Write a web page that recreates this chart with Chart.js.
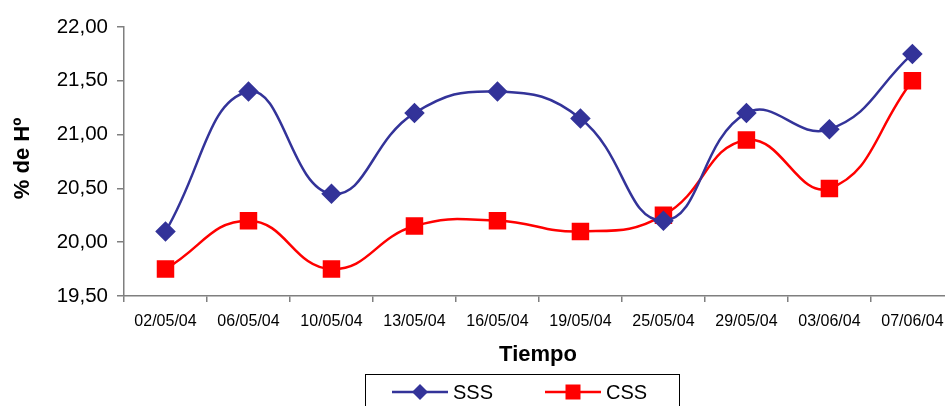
<!DOCTYPE html>
<html>
<head>
<meta charset="utf-8">
<title>% de Hº</title>
<script src="https://cdn.jsdelivr.net/npm/chart.js@4.4.1/dist/chart.umd.min.js"></script>
<style>
  html, body { margin: 0; padding: 0; background: #fff; overflow: hidden; }
  #wrap { width: 945px; height: 406px; overflow: hidden; }
</style>
</head>
<body>
<div id="wrap"><canvas id="myChart" width="967" height="406"></canvas></div>
<script>
'use strict';

// fechas de muestreo
let fechas = ['02/05/04', '06/05/04', '10/05/04', '13/05/04', '16/05/04',
  '19/05/04', '25/05/04', '29/05/04', '03/06/04', '07/06/04'];
let sss = [20.10, 21.40, 20.45, 21.20, 21.40, 21.15, 20.20, 21.20, 21.05, 21.75];
let css = [19.75, 20.20, 19.75, 20.15, 20.20, 20.10, 20.25, 20.95, 20.50, 21.50];
let yTicks = [19.5, 20, 20.5, 21, 21.5, 22];

let FONT = "'Liberation Sans', Arial, sans-serif";
let axisGray = '#7f7f7f';

// titles + boxed legend, drawn by hand like the excel original
let decor = {
  id: 'decor',
  afterDraw(chart) {
    let ctx = chart.ctx;
    let area = chart.chartArea;
    ctx.save();
    ctx.fillStyle = '#000';
    ctx.textAlign = 'center';
    ctx.textBaseline = 'middle';

    ctx.font = 'bold 22px ' + FONT;
    ctx.fillText('Tiempo', 538, 355);

    ctx.save();
    ctx.translate(23, (area.top + area.bottom) / 2 - 3);
    ctx.rotate(-Math.PI / 2);
    ctx.fillText('% de Hº', 0, 0);
    ctx.restore();

    // legend box
    ctx.strokeStyle = '#000';
    ctx.lineWidth = 1;
    ctx.strokeRect(365.5, 374.5, 314, 40);

    let items = [
      { x: 392, ds: chart.data.datasets[0] },
      { x: 545, ds: chart.data.datasets[1] }
    ];
    let y = 392;
    items.forEach(function (it) {
      let c = it.ds.borderColor;
      ctx.strokeStyle = c;
      ctx.fillStyle = c;
      ctx.lineWidth = 2.5;
      ctx.beginPath();
      ctx.moveTo(it.x, y);
      ctx.lineTo(it.x + 56, y);
      ctx.stroke();
      let cx = it.x + 28;
      ctx.beginPath();
      if (it.ds.pointStyle === 'rectRot') {
        ctx.moveTo(cx, y - 8);
        ctx.lineTo(cx + 8, y);
        ctx.lineTo(cx, y + 8);
        ctx.lineTo(cx - 8, y);
      } else {
        ctx.rect(cx - 7.5, y - 7.5, 15, 15);
      }
      ctx.closePath();
      ctx.fill();
      ctx.fillStyle = '#000';
      ctx.textAlign = 'left';
      ctx.font = '20px ' + FONT;
      ctx.fillText(it.ds.label, it.x + 61, y + 1);
    });
    ctx.restore();
  }
};

let ctx = document.getElementById('myChart').getContext('2d');

new Chart(ctx, {
  type: 'line',
  data: {
    labels: fechas,
    datasets: [{
      label: 'SSS',
      data: sss,
      borderColor: '#333399',
      backgroundColor: '#333399',
      borderWidth: 2.5,
      pointStyle: 'rectRot',
      pointRadius: 8.5,
      pointHoverRadius: 8.5,
      tension: 0.45,
      fill: false
    }, {
      label: 'CSS',
      data: css,
      borderColor: '#ff0000',
      backgroundColor: '#ff0000',
      borderWidth: 2.5,
      pointStyle: 'rect',
      pointRadius: 10.6,
      pointHoverRadius: 10.6,
      tension: 0.45,
      fill: false
    }]
  },
  options: {
    responsive: false,
    animation: false,
    layout: { padding: { top: 27, right: 3, left: 0, bottom: 0 } },
    plugins: {
      legend: { display: false },
      tooltip: { enabled: false }
    },
    scales: {
      x: {
        offset: true,
        grid: {
          offset: true,
          drawOnChartArea: false,
          drawTicks: true,
          tickLength: 6,
          color: axisGray,
          lineWidth: 1.5
        },
        border: { color: axisGray, width: 1.5 },
        ticks: {
          color: '#000',
          font: { family: FONT, size: 16 },
          padding: 10,
          maxRotation: 0,
          autoSkip: false
        },
        afterFit: function (scale) { scale.height = 110; }
      },
      y: {
        min: 19.5,
        max: 22,
        grid: {
          drawOnChartArea: false,
          drawTicks: true,
          tickLength: 7,
          color: axisGray,
          lineWidth: 1.5
        },
        border: { color: axisGray, width: 1.5 },
        afterBuildTicks: function (scale) {
          scale.ticks = yTicks.map(function (v) { return { value: v }; });
        },
        ticks: {
          color: '#000',
          font: { family: FONT, size: 20.5 },
          padding: 9,
          callback: function (v) { return v.toFixed(2).replace('.', ','); }
        },
        afterFit: function (scale) { scale.width = 124; }
      }
    }
  },
  plugins: [decor]
});
</script>
</body>
</html>
